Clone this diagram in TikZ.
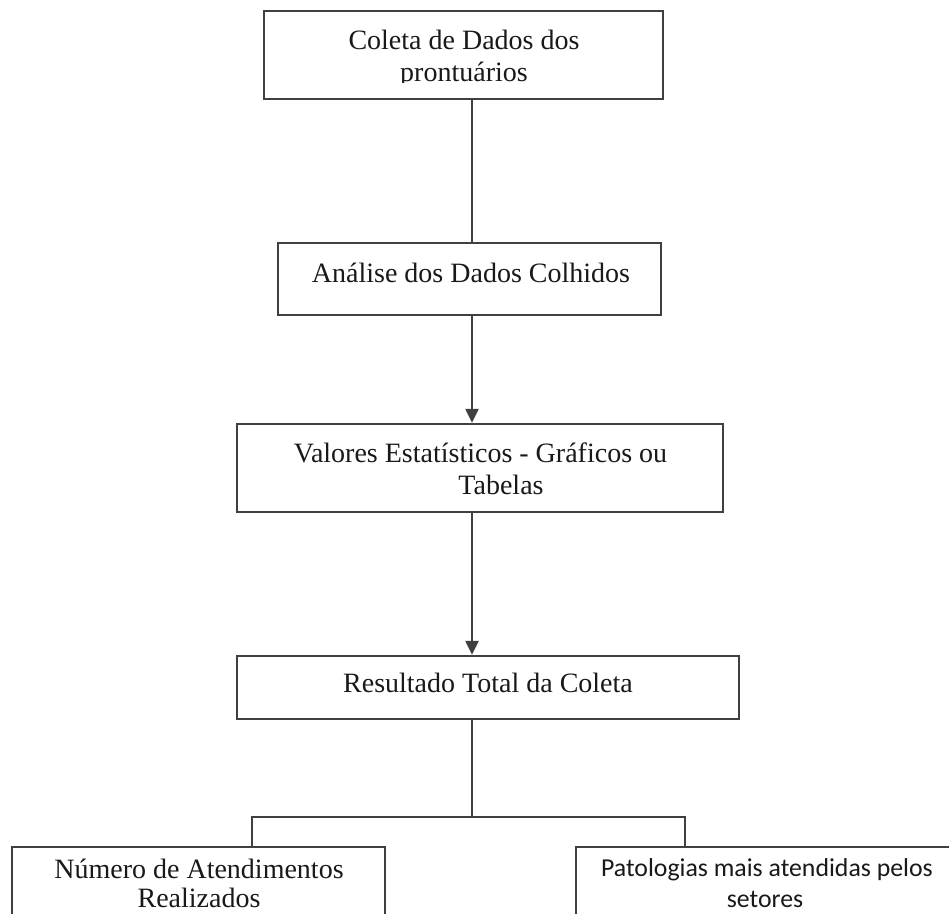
\documentclass[tikz,border=0pt]{standalone}
\usepackage{fontspec}
\setmainfont{Liberation Serif}
\newfontfamily\calib{Carlito}
\usetikzlibrary{arrows.meta}
\begin{document}
\begin{tikzpicture}[x=0.5pt,y=-0.5pt,
  boxst/.style={draw=black!75,line width=1.2pt,rectangle,inner sep=0pt},
  txt/.style={anchor=base,inner sep=0pt,text=black!90,font=\fontsize{14}{16}\selectfont},
  stxt/.style={anchor=base,inner sep=0pt,text=black!90,font=\calib\fontsize{12.9}{16}\selectfont},
  conn/.style={draw=black!75,line width=1.2pt},
  arr/.style={conn,-{Triangle[length=7pt,width=6.5pt]}}]
\clip (0,0) rectangle (949,914);
\fill[white] (0,0) rectangle (949,914);
% boxes
\node[boxst,minimum width=199.5pt,minimum height=44pt] (b1) at (463.5,55) {};
\node[boxst,minimum width=191.5pt,minimum height=36pt] (b2) at (469.5,279) {};
\node[boxst,minimum width=243pt,minimum height=44pt] (b3) at (480,468) {};
\node[boxst,minimum width=251pt,minimum height=31.5pt] (b4) at (488,687.5) {};
\node[boxst,minimum width=186.5pt,minimum height=56.5pt] (b5) at (198.5,903.5) {};
\node[boxst,minimum width=197pt,minimum height=56.5pt] (b6) at (773,903.5) {};
% texts
\node[txt] (t1a) at (464,50) {Coleta de Dados dos};
\begin{scope}
\clip (264,60) rectangle (663,83);
\node[txt] (t1b) at (464,82) {prontuários};
\end{scope}
\node[txt] (t2) at (471,283) {Análise dos Dados Colhidos};
\node[txt] (t3a) at (480.5,463) {Valores Estatísticos - Gráficos ou};
\node[txt] (t3b) at (501,495) {Tabelas};
\node[txt] (t4) at (488,693) {Resultado Total da Coleta};
\node[txt] (t5a) at (199,878) {Número de Atendimentos};
\node[txt] (t5b) at (199,907) {Realizados};
\node[stxt] (t6a) at (767,877) {Patologias mais atendidas pelos};
\node[stxt] (t6b) at (765,907) {setores};
% connectors
\coordinate (j) at (472,817);
\coordinate (jl) at (252,817);
\coordinate (jr) at (685,817);
\draw[conn] (b1.south -| j) -- (b2.north -| j);
\draw[arr] (b2.south -| j) -- (b3.north -| j);
\draw[arr] (b3.south -| j) -- (b4.north -| j);
\draw[conn] (b4.south -| j) -- (j);
\draw[conn] (jl |- b5.north) -- (jl) -- (jr) -- (jr |- b6.north);
\end{tikzpicture}
\end{document}
